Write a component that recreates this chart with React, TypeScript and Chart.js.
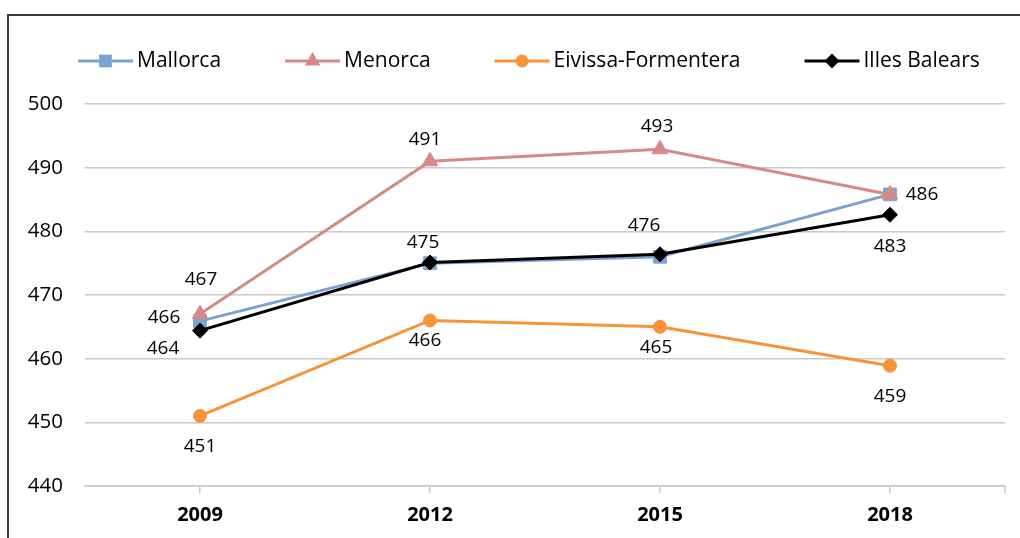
import React, { useEffect, useRef } from "react";
import { Chart, registerables } from "chart.js";

Chart.register(...registerables);

// ---- data ----
const years = ["2009", "2012", "2015", "2018"];
const seriesNames = ["Mallorca", "Menorca", "Eivissa-Formentera", "Illes Balears"];
const mallorca = [465.9, 475.0, 476.0, 485.8];
const menorca = [467.0, 491.0, 492.9, 485.8];
const eivissa = [451.0, 466.0, 465.0, 458.9];
const illesBalears = [464.4, 475.1, 476.4, 482.6];
const yMin = 440;
const yMax = 500;
const yStep = 10;

// ---- styles ----
const colors = ["#7BA1D3", "#D58A87", "#F7933B", "#000000"];
const pointStyles = ["rect", "triangle", "circle", "rectRot"];
const pointRadii = [9, 9, 6.5, 7.5];
// label offsets (dx, dy) relative to each point; null = no label
const labelOffsets: (number[] | null)[][] = [
  [[-36, -4], [-7, -21], null, [32, 0]],
  [[1, -35], [-5, -22], [-3, -23], null],
  [[0, 31], [-5, 20], [-4, 21], [0, 31]],
  [[-37, 18], null, [-16, -29], [0, 32]],
];
const FONT = "'Open Sans', 'Noto Sans', sans-serif";

const framePlugin = {
  id: "frame",
  beforeDraw(chart: any) {
    const ctx = chart.ctx;
    ctx.save();
    ctx.fillStyle = "#ffffff";
    ctx.fillRect(0, 0, chart.width, chart.height);
    ctx.fillStyle = "#3a3a3a";
    ctx.fillRect(7, 14, chart.width - 7, 2);
    ctx.fillRect(7, 14, 2, chart.height - 14);
    ctx.restore();
  },
  afterDraw(chart: any) {
    // right-end tick on the category axis
    const ctx = chart.ctx;
    const a = chart.chartArea;
    ctx.save();
    ctx.strokeStyle = "#c8c8c8";
    ctx.lineWidth = 1.5;
    ctx.beginPath();
    ctx.moveTo(a.right, a.bottom);
    ctx.lineTo(a.right, a.bottom + 7);
    ctx.stroke();
    ctx.restore();
  },
};

function drawMarker(ctx: CanvasRenderingContext2D, style: string, r: number, x: number, y: number) {
  ctx.beginPath();
  if (style === "rect") {
    const s = Math.SQRT1_2 * r;
    ctx.rect(x - s, y - s, 2 * s, 2 * s);
  } else if (style === "triangle") {
    ctx.moveTo(x, y - r);
    ctx.lineTo(x + Math.sin((2 * Math.PI) / 3) * r, y + r / 2);
    ctx.lineTo(x - Math.sin((2 * Math.PI) / 3) * r, y + r / 2);
    ctx.closePath();
  } else if (style === "circle") {
    ctx.arc(x, y, r, 0, Math.PI * 2);
  } else {
    ctx.moveTo(x - r, y);
    ctx.lineTo(x, y - r);
    ctx.lineTo(x + r, y);
    ctx.lineTo(x, y + r);
    ctx.closePath();
  }
  ctx.fill();
}

const legendPlugin = {
  id: "customLegend",
  afterDraw(chart: any) {
    const ctx = chart.ctx;
    ctx.save();
    ctx.font = `21px ${FONT}`;
    ctx.textBaseline = "middle";
    ctx.textAlign = "left";
    const y = 61;
    let x = 78;
    chart.data.datasets.forEach((ds: any, i: number) => {
      const lineLen = 55;
      ctx.strokeStyle = ds.borderColor;
      ctx.lineWidth = 3;
      ctx.beginPath();
      ctx.moveTo(x, y);
      ctx.lineTo(x + lineLen, y);
      ctx.stroke();
      ctx.fillStyle = ds.pointBackgroundColor;
      drawMarker(ctx, ds.pointStyle, ds.pointRadius, x + lineLen / 2, y);
      ctx.fillStyle = "#000000";
      const tx = x + lineLen + 4;
      ctx.fillText(seriesNames[i], tx, y);
      x = tx + ctx.measureText(seriesNames[i]).width + 64;
    });
    ctx.restore();
  },
};

const labelPlugin = {
  id: "dataLabels",
  afterDatasetsDraw(chart: any) {
    const ctx = chart.ctx;
    ctx.save();
    ctx.font = `19px ${FONT}`;
    ctx.fillStyle = "#000000";
    ctx.textAlign = "center";
    ctx.textBaseline = "middle";
    chart.data.datasets.forEach((ds: any, i: number) => {
      const meta = chart.getDatasetMeta(i);
      meta.data.forEach((pt: any, j: number) => {
        const off = labelOffsets[i][j];
        if (!off) return;
        const v = Math.round(ds.data[j]);
        ctx.fillText(String(v), pt.x + off[0], pt.y + off[1]);
      });
    });
    ctx.restore();
  },
};

export default function App() {
  const ref = useRef<HTMLCanvasElement | null>(null);
  useEffect(() => {
    if (!ref.current) return;
    const series = [mallorca, menorca, eivissa, illesBalears];
    const chart = new Chart(ref.current, {
      type: "line",
      data: {
        labels: years,
        datasets: series.map((d, i) => ({
          label: seriesNames[i],
          data: d,
          borderColor: colors[i],
          backgroundColor: colors[i],
          pointBackgroundColor: colors[i],
          pointBorderColor: colors[i],
          pointBorderWidth: 1,
          pointStyle: pointStyles[i],
          pointRadius: pointRadii[i],
          pointHoverRadius: pointRadii[i],
          borderWidth: 3,
          tension: 0,
          fill: false,
          order: 4 - i,
        })),
      },
      options: {
        responsive: false,
        animation: false,
        events: [],
        layout: { padding: { top: 104, right: 15, left: 0, bottom: 0 } },
        plugins: {
          legend: { display: false },
          tooltip: { enabled: false },
          title: { display: false },
        },
        scales: {
          x: {
            offset: true,
            grid: {
              offset: false,
              drawOnChartArea: false,
              drawTicks: true,
              tickLength: 7,
              color: "#c8c8c8",
              lineWidth: 1.5,
            },
            border: { display: true, color: "#c8c8c8", width: 1.5 },
            ticks: {
              color: "#000000",
              font: { family: FONT, size: 20, weight: "bold" },
              padding: 10,
              maxRotation: 0,
            },
            afterFit(scale: any) {
              scale.height = 52;
            },
          },
          y: {
            min: yMin,
            max: yMax,
            grid: { color: "#c8c8c8", lineWidth: 1.5, drawTicks: false },
            border: { display: false },
            ticks: {
              stepSize: yStep,
              color: "#000000",
              font: { family: FONT, size: 20.5 },
              padding: 22,
            },
            afterFit(scale: any) {
              scale.width = 85;
            },
          },
        },
      },
      plugins: [framePlugin, labelPlugin, legendPlugin],
    } as any);
    return () => chart.destroy();
  }, []);
  return (
    <div style={{ position: "absolute", left: 0, top: 0, width: 1020, height: 538 }}>
      <canvas ref={ref} width={1020} height={538} style={{ display: "block" }} />
    </div>
  );
}
